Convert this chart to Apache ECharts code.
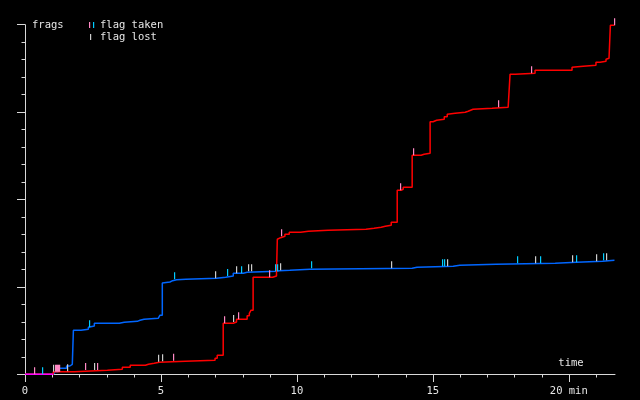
<!DOCTYPE html>
<html>
<head>
<meta charset="utf-8">
<script src="https://cdn.jsdelivr.net/npm/echarts@6/dist/echarts.min.js"></script>
<style>
html,body{margin:0;padding:0;background:#000;}
#chart{width:640px;height:400px;}
</style>
</head>
<body>
<div id="chart"></div>
<script>
// time in minutes, frags after each change (step functions)
const redTime  = [0, 1.04, 1.81, 3.03, 3.58, 3.87, 4.43, 4.54, 4.75, 4.94, 5.90, 6.99, 7.07, 7.29, 7.66, 7.78, 8.17, 8.25, 8.31, 8.39, 9.11, 9.25, 9.28, 9.35, 9.40, 9.56, 9.72, 10.14, 10.42, 11.15, 12.54, 12.84, 13.10, 13.25, 13.47, 13.69, 13.83, 13.91, 14.24, 14.57, 14.68, 14.90, 15.01, 15.14, 15.42, 15.53, 15.58, 15.82, 16.19, 16.30, 16.39, 16.48, 17.18, 17.77, 17.84, 18.03, 18.76, 20.12, 20.19, 20.53, 21.00, 21.15, 21.37, 21.42, 21.48, 21.53, 21.68];
const redFrags = [0, 3.0, 4.6, 5.7, 8.0, 10.3, 11.4, 12.6, 13.7, 14.9, 16.0, 18.3, 21.7, 58.4, 59.8, 62.9, 67.0, 69.8, 73.2, 111.0, 112.5, 115.6, 154.5, 156.3, 157.9, 160.2, 162.5, 163.6, 164.8, 165.9, 167.0, 168.2, 169.3, 170.5, 173.9, 210.5, 211.7, 214.0, 250.6, 251.7, 252.9, 289.0, 290.6, 291.8, 294.7, 297.5, 298.6, 299.8, 300.9, 302.1, 303.2, 304.3, 305.5, 306.6, 343.2, 344.4, 347.8, 351.3, 352.4, 353.5, 357.0, 358.1, 360.4, 361.6, 362.7, 399.3, 399.3];

const blueTime  = [0, 1.04, 1.11, 1.22, 1.53, 1.65, 1.74, 1.78, 2.06, 2.33, 2.40, 2.55, 3.47, 3.65, 4.13, 4.23, 4.38, 4.90, 4.96, 5.05, 5.10, 5.33, 5.43, 5.58, 5.64, 5.92, 7.05, 7.38, 7.66, 8.03, 8.17, 9.25, 9.35, 9.74, 10.48, 14.24, 14.42, 15.75, 15.99, 17.32, 19.50, 20.28, 21.24, 21.68];
const blueFrags = [0, 1.8, 3.0, 6.9, 9.5, 11.4, 12.6, 50.3, 51.5, 53.8, 55.3, 58.4, 59.5, 60.6, 61.8, 62.9, 64.1, 65.9, 67.5, 104.5, 105.6, 107.1, 108.2, 109.4, 108.7, 109.8, 111.0, 112.5, 115.6, 116.7, 117.8, 118.5, 119.0, 120.1, 121.3, 122.4, 123.6, 124.7, 125.9, 127.0, 128.1, 129.3, 130.4, 130.4];

// flag events: [time, frags at the event]
const flagTakenRed = [[0.34, 0], [1.11, 3], [1.15, 3], [1.19, 3], [1.22, 3], [1.26, 3], [2.22, 4.9], [2.66, 4.9], [5.45, 15.6], [7.33, 58.4], [7.84, 62.9], [8.96, 111.0], [9.42, 157.9], [13.80, 210.5], [14.28, 250.6], [17.40, 305.5], [18.61, 344.4], [21.66, 399.3]];
const flagTakenBlue = [[0.64, 0], [2.36, 53.8], [5.49, 108.7], [7.44, 112.5], [7.95, 115.6], [9.20, 117.8], [9.28, 117.8], [10.53, 121.3], [15.34, 123.6], [15.42, 123.6], [18.10, 127.0], [18.94, 127.0], [20.28, 128.1], [21.26, 130.4]];
const flagLost = [[1.04, 3], [1.56, 3.4], [2.55, 4.9], [4.90, 14.4], [5.05, 14.9], [7.00, 109.8], [7.66, 59.8], [7.77, 115.6], [8.21, 117.8], [8.32, 117.8], [9.38, 119.0], [13.47, 121.3], [15.53, 123.6], [18.76, 127.0], [20.12, 128.1], [21.00, 129.3], [21.37, 130.4]];

const xMajorTicks = [0, 5, 10, 15, 20];
const xTickLabels = ['0', '5', '10', '15', '20 min'];
const xMinorTicks = [1, 2, 3, 4, 6, 7, 8, 9, 11, 12, 13, 14, 16, 17, 18, 19, 21];
const xMax = 21.7;
const yMax = 400;
const yInterval = 100;

const zip = (a, b) => a.map((t, i) => [t, b[i]]);
// initial stretch where both teams are still at zero
const redStart = redTime[redFrags.findIndex(v => v > 0)];
const blueStart = blueTime[blueFrags.findIndex(v => v > 0)];
const bothZero = [[0, 0], [Math.min(redStart, blueStart), 0]];

const FONT = 'DejaVu Sans Mono';
const TXT = '#e6e6e6';
const AX = '#d8d8d8';
const PINK = '#ff88c4', CYAN = '#00ccff', GREY = '#cccccc';

const chart = echarts.init(document.getElementById('chart'), null, {renderer: 'canvas'});

// flag markers: short vertical bars standing on the score line
const markerSeries = (data, color) => ({
  type: 'custom', data: data, clip: false, silent: true, z: 5,
  renderItem: (params, api) => {
    const p = api.coord([api.value(0), api.value(1)]);
    const x = Math.round(p[0]);
    return {type: 'rect', shape: {x: x, y: p[1] - 7, width: 1.2, height: 7}, style: {fill: color}};
  }
});
// x-axis ticks drawn below the axis line
const tickSeries = (values, len) => ({
  type: 'custom', data: values.map(v => [v, 0]), clip: false, silent: true, z: 1,
  renderItem: (params, api) => {
    const p = api.coord([api.value(0), 0]);
    const x = Math.round(p[0]) + 0.5;
    const y = Math.round(p[1]);
    return {type: 'line', shape: {x1: x, y1: y, x2: x, y2: y + len}, style: {stroke: AX, lineWidth: 1}};
  }
});

chart.setOption({
  backgroundColor: '#000',
  animation: false,
  grid: {left: 25, right: 25, top: 24.7, bottom: 25.7},
  xAxis: {
    type: 'value', min: 0, max: xMax,
    axisLine: {lineStyle: {color: AX, width: 1}},
    axisTick: {show: false},
    axisLabel: {customValues: xMajorTicks, color: TXT, fontFamily: FONT, fontSize: 10.5, margin: 11,
      formatter: v => xTickLabels[xMajorTicks.indexOf(v)] || ''},
    splitLine: {show: false}
  },
  yAxis: {
    type: 'value', min: 0, max: yMax, interval: yInterval,
    axisLine: {show: true, lineStyle: {color: AX, width: 1}},
    axisTick: {show: true, length: 8, lineStyle: {color: AX}},
    minorTick: {show: true, splitNumber: 5, length: 3.5, lineStyle: {color: AX}},
    axisLabel: {show: false},
    splitLine: {show: false}
  },
  series: [
    tickSeries(xMajorTicks, 8),
    tickSeries(xMinorTicks, 3.5),
    {type: 'line', data: zip(blueTime, blueFrags), step: 'end', showSymbol: false,
      lineStyle: {color: '#0066ff', width: 1.5}, z: 2},
    {type: 'line', data: zip(redTime, redFrags), step: 'end', showSymbol: false,
      lineStyle: {color: '#ff0000', width: 1.5}, z: 3},
    {type: 'line', data: bothZero, showSymbol: false,
      lineStyle: {color: '#ff00ff', width: 1.5}, z: 4},
    markerSeries(flagLost, GREY),
    markerSeries(flagTakenRed, PINK),
    markerSeries(flagTakenBlue, CYAN)
  ],
  graphic: [
    {type: 'text', x: 32, y: 25.5, style: {text: 'frags', fill: TXT, font: '10.5px ' + FONT, verticalAlign: 'middle'}},
    {type: 'rect', shape: {x: 89, y: 22, width: 1.2, height: 6}, style: {fill: PINK}},
    {type: 'rect', shape: {x: 93, y: 22, width: 1.2, height: 6}, style: {fill: CYAN}},
    {type: 'text', x: 100, y: 25.5, style: {text: 'flag taken', fill: TXT, font: '10.5px ' + FONT, verticalAlign: 'middle'}},
    {type: 'rect', shape: {x: 90, y: 34, width: 1.2, height: 6}, style: {fill: GREY}},
    {type: 'text', x: 100, y: 37, style: {text: 'flag lost', fill: TXT, font: '10.5px ' + FONT, verticalAlign: 'middle'}},
    {type: 'text', x: 571, y: 363, style: {text: 'time', fill: TXT, font: '10.5px ' + FONT, align: 'center', verticalAlign: 'middle'}}
  ]
});
</script>
</body>
</html>
